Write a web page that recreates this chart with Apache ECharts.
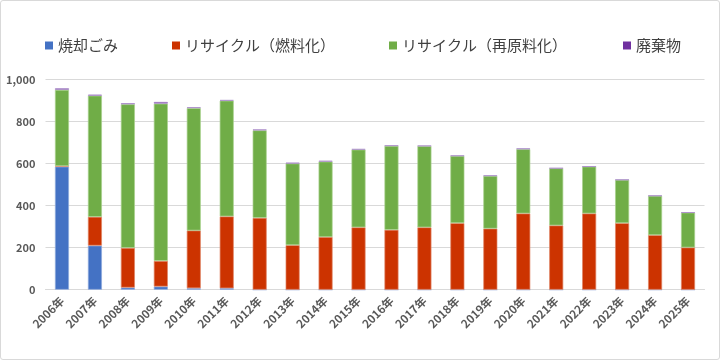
<!DOCTYPE html>
<html><head><meta charset="utf-8">
<script src="https://cdn.jsdelivr.net/npm/echarts@6/dist/echarts.min.js"></script>
<style>
html,body{margin:0;padding:0;background:#fff;}
#c{width:718px;height:358px;border:1px solid #d9d9d9;border-radius:3px;}
</style></head>
<body><div id="c"></div>
<script>
const categories = ['2006年','2007年','2008年','2009年','2010年','2011年','2012年','2013年','2014年','2015年','2016年','2017年','2018年','2019年','2020年','2021年','2022年','2023年','2024年','2025年'];
const incineration = [586,210,10,15,7,7,0,0,0,0,0,0,0,0,0,0,0,0,0,0];
const recycleFuel = [3,137,189,122,275,342,342,212,251,297,285,297,317,291,363,306,363,317,260,201];
const recycleMaterial = [363,577,684,749,583,551,417,389,359,370,400,387,320,251,306,272,223,206,187,166];
const waste = [7,5,5,8,4,3,4,4,4,3,2,2,2,2,4,1,1,1,1,1];
const yTicks = [0,200,400,600,800,1000];

const names = ['焼却ごみ','リサイクル（燃料化）','リサイクル（再原料化）','廃棄物'];
const colors = ['#4472C4','#CC3300','#70AD47','#7030A0'];
const borders = ['#8FAADC','#E08566','#A9D18E','#A98BC8'];
const datas = [incineration, recycleFuel, recycleMaterial, waste];
const legendLeft = [40, 167, 384, 618];
const font = '"Noto Sans CJK JP", "Noto Sans", sans-serif';

const chart = echarts.init(document.getElementById('c'), null, {renderer:'canvas'});
chart.setOption({
  animation:false,
  color: colors,
  legend: names.map((n,i)=>({
    data:[{name:n, itemStyle:{borderWidth:0}}], left: legendLeft[i]-1, top: 32, itemWidth: 8, itemHeight: 8, icon:'rect', itemGap: 4,
    textStyle:{fontFamily:font, fontSize:15, color:'#404040'}
  })),
  grid:{left:44.5, right:14.5, top:78.7, bottom:69.3},
  xAxis:{
    type:'category', data: categories,
    axisLine:{lineStyle:{color:'#d9d9d9'}},
    axisTick:{show:false},
    axisLabel:{rotate:45, fontFamily:font, fontSize:11.5, fontWeight:'bold', color:'#595959', margin:9, interval:0}
  },
  yAxis:{
    type:'value', min: yTicks[0], max: yTicks[yTicks.length-1], interval: 200,
    axisLine:{show:false}, axisTick:{show:false},
    splitLine:{lineStyle:{color:'#d9d9d9'}},
    axisLabel:{fontFamily:font, fontSize:11, fontWeight:'bold', color:'#595959', margin:10,
      formatter: v => v.toLocaleString('en-US')}
  },
  series: names.map((n,i)=>({
    name:n, type:'bar', stack:'total', data: datas[i], barWidth: 14,
    itemStyle:{color: colors[i], borderColor: borders[i], borderWidth:0.7}
  }))
});
</script></body></html>
